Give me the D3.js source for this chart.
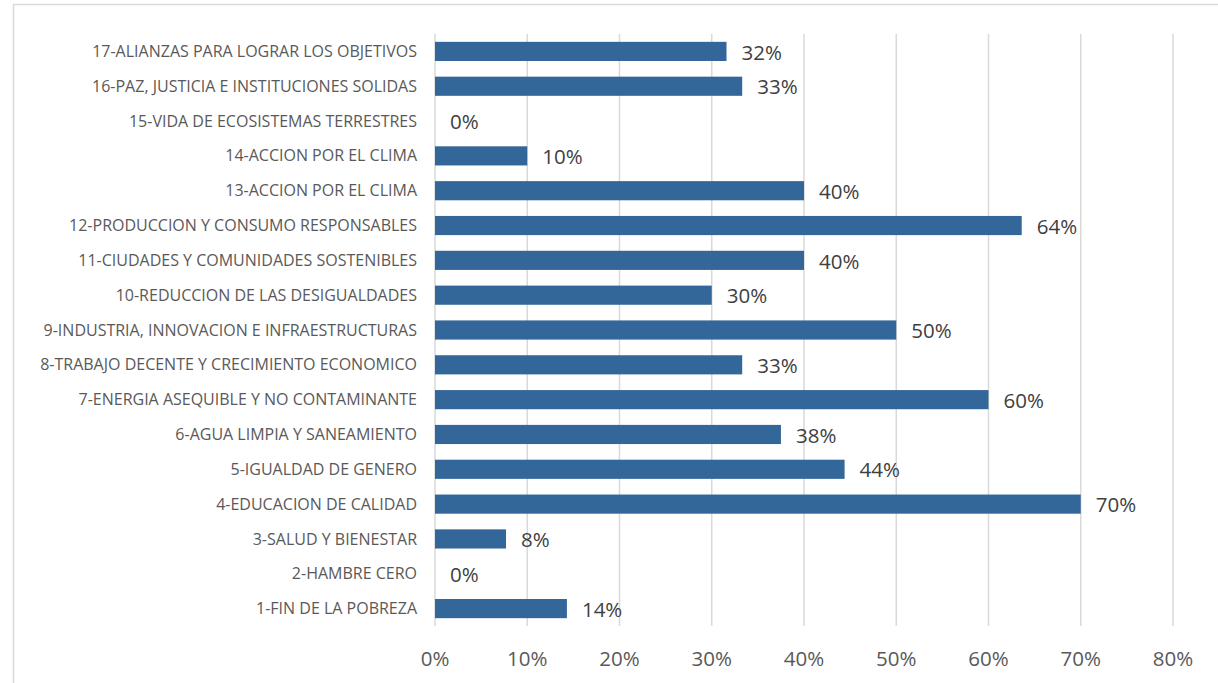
<!DOCTYPE html>
<html>
<head>
<meta charset="utf-8">
<script src="https://d3js.org/d3.v7.min.js"></script>
<style>
  body { margin: 0; background: #fff; }
  .cat { font-family: "Open Sans", sans-serif; font-size: 16px; fill: #595959; }
  .val { font-family: "Open Sans", sans-serif; font-size: 20.5px; fill: #404040; }
  .tick-lbl { font-family: "Open Sans", sans-serif; font-size: 20.5px; fill: #595959; }
</style>
</head>
<body>
<svg id="chart" width="1218" height="683"></svg>
<script>
const categories = [
  "1-FIN DE LA POBREZA",
  "2-HAMBRE CERO",
  "3-SALUD Y BIENESTAR",
  "4-EDUCACION DE CALIDAD",
  "5-IGUALDAD DE GENERO",
  "6-AGUA LIMPIA Y SANEAMIENTO",
  "7-ENERGIA ASEQUIBLE Y NO CONTAMINANTE",
  "8-TRABAJO DECENTE Y CRECIMIENTO ECONOMICO",
  "9-INDUSTRIA, INNOVACION E INFRAESTRUCTURAS",
  "10-REDUCCION DE LAS DESIGUALDADES",
  "11-CIUDADES Y COMUNIDADES SOSTENIBLES",
  "12-PRODUCCION Y CONSUMO RESPONSABLES",
  "13-ACCION POR EL CLIMA",
  "14-ACCION POR EL CLIMA",
  "15-VIDA DE ECOSISTEMAS TERRESTRES",
  "16-PAZ, JUSTICIA E INSTITUCIONES SOLIDAS",
  "17-ALIANZAS PARA LOGRAR LOS OBJETIVOS"
];
const values = [0.143, 0, 0.077, 0.70, 0.444, 0.375, 0.60, 0.333, 0.50, 0.30, 0.40, 0.636, 0.40, 0.10, 0, 0.333, 0.316];
const ticks = [0, 0.1, 0.2, 0.3, 0.4, 0.5, 0.6, 0.7, 0.8];

const svg = d3.select("#chart");

// chart frame
svg.append("rect")
  .attr("x", 13.5).attr("y", 4.5)
  .attr("width", 1230).attr("height", 700)
  .attr("fill", "none").attr("stroke", "#d9d9d9").attr("stroke-width", 1.5);

const x = d3.scaleLinear().domain([0, 0.8]).range([435, 1173]);
const y = d3.scaleBand().domain(categories.slice().reverse()).range([34, 626]).paddingInner(0.45).paddingOuter(0.225);

// gridlines
svg.append("g").selectAll("line").data(ticks).join("line")
  .attr("x1", d => x(d)).attr("x2", d => x(d))
  .attr("y1", 34).attr("y2", 626)
  .attr("stroke", "#d9d9d9").attr("stroke-width", 1.5);

// bars
svg.append("g").selectAll("rect").data(categories).join("rect")
  .attr("x", x(0))
  .attr("y", d => y(d))
  .attr("width", (d, i) => x(values[i]) - x(0))
  .attr("height", y.bandwidth())
  .attr("fill", "#336699");

// value labels
svg.append("g").selectAll("text").data(categories).join("text")
  .attr("class", "val")
  .attr("x", (d, i) => x(values[i]) + 15)
  .attr("y", d => y(d) + y.bandwidth() / 2 + 1)
  .attr("dy", "0.35em")
  .text((d, i) => d3.format(".0%")(values[i]));

// category labels
svg.append("g").selectAll("text").data(categories).join("text")
  .attr("class", "cat")
  .attr("x", 417)
  .attr("y", d => y(d) + y.bandwidth() / 2)
  .attr("dy", "0.35em")
  .attr("text-anchor", "end")
  .text(d => d);

// x tick labels
svg.append("g").selectAll("text").data(ticks).join("text")
  .attr("class", "tick-lbl")
  .attr("x", d => x(d))
  .attr("y", 659)
  .attr("dy", "0.35em")
  .attr("text-anchor", "middle")
  .text(d => d3.format(".0%")(d));
</script>
</body>
</html>
